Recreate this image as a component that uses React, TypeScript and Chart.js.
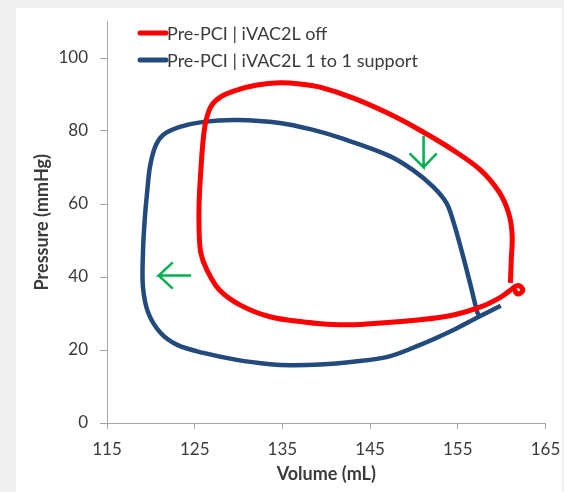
import { useEffect, useRef } from 'react';
import { Chart, registerables } from 'chart.js';

Chart.register(...registerables);

// Series labels
const seriesLabels = ['Pre-PCI | iVAC2L off', 'Pre-PCI | iVAC2L 1 to 1 support'];

// Pre-PCI | iVAC2L off (red loop) — volume (mL), pressure (mmHg)
const redVolume = [
  161.0, 161.1, 161.2, 160.8, 159.7, 157.6, 154.5, 150.7, 147.0, 143.1, 139.3, 137.0, 134.7, 132.1,
  129.8, 128.0, 126.9, 126.3, 126.0, 125.7, 125.5, 125.5, 125.7, 126.4, 127.8, 130.2, 133.6, 137.4,
  141.6, 145.0, 150.7, 154.5, 157.6, 159.9, 161.2, 161.7, 162.1, 162.4, 162.1, 161.7, 161.5,
];
const redPressure = [
  38.4, 45.0, 51.5, 57.5, 63.3, 69.3, 74.7, 80.2, 84.9, 89.0, 92.0, 92.9, 93.2, 92.6,
  91.2, 89.4, 86.9, 83.0, 78.4, 69.3, 60.3, 52.9, 46.6, 41.9, 36.5, 32.3, 29.1, 27.7,
  26.9, 27.2, 28.3, 29.6, 31.8, 34.5, 36.8, 37.6, 37.5, 36.5, 35.5, 35.5, 36.5,
];

// Pre-PCI | iVAC2L 1 to 1 support (blue loop)
const blueVolume = [
  159.9, 157.4, 154.5, 150.7, 147.0, 143.1, 139.3, 135.9, 133.6, 129.8, 126.0, 123.0, 121.1, 119.7,
  119.1, 119.1, 119.3, 119.6, 119.9, 120.5, 121.4, 123.3, 126.0, 129.8, 134.7, 138.5, 141.6, 147.0,
  149.9, 152.2, 153.7, 154.5, 155.5, 156.5, 157.2, 157.4,
];
const bluePressure = [
  32.1, 29.1, 25.5, 21.4, 18.1, 16.8, 16.0, 15.8, 16.1, 17.3, 19.2, 21.4, 24.7, 30.2,
  37.3, 46.6, 55.7, 63.8, 70.2, 75.7, 78.9, 81.1, 82.5, 83.0, 82.2, 80.3, 78.1, 73.4,
  69.3, 64.7, 60.3, 55.1, 46.6, 37.3, 30.5, 29.4,
];

// Green direction arrows (null = pen up)
const arrowDownVolume = [151.1, 151.1, 149.5, null, 151.1, 152.6];
const arrowDownPressure = [78.7, 70.1, 73.9, null, 70.1, 73.9];
const arrowLeftVolume = [124.6, 120.9, 122.5, null, 120.9, 122.5];
const arrowLeftPressure = [40.4, 40.4, 44.0, null, 40.4, 36.8];

// Axis ticks
const xTicks = [115, 125, 135, 145, 155, 165];
const yTicks = [0, 20, 40, 60, 80, 100];

const RED = '#ff0000';
const BLUE = '#224a7d';
const GREEN = '#00b050';
const AXIS = '#a6a6a6';
const TEXT = '#3a3a3a';
const FONT = 'Lato';

const toPoints = (xs: (number | null)[], ys: (number | null)[]) =>
  xs.map((x, i) => ({ x: x as number, y: ys[i] as number }));

const lineLegend = {
  id: 'lineLegend',
  afterDraw(chart: any) {
    const ctx = chart.ctx;
    const { left, top } = chart.chartArea;
    chart.data.datasets.forEach((ds: any, i: number) => {
      if (!ds.label) return;
      const y = top + 11.5 + i * 27;
      const x0 = left + 31;
      ctx.save();
      ctx.strokeStyle = ds.borderColor;
      ctx.lineWidth = 5;
      ctx.lineCap = 'round';
      ctx.beginPath();
      ctx.moveTo(x0 + 2, y);
      ctx.lineTo(x0 + 28, y);
      ctx.stroke();
      ctx.fillStyle = TEXT;
      ctx.font = `18px ${FONT}`;
      ctx.textBaseline = 'middle';
      ctx.textAlign = 'left';
      ctx.fillText(ds.label, x0 + 29, y + 1);
      ctx.restore();
    });
  },
};

export default function App() {
  const ref = useRef<HTMLCanvasElement>(null);

  useEffect(() => {
    if (!ref.current) return;
    const chart = new Chart(ref.current, {
      type: 'scatter',
      data: {
        datasets: [
          {
            label: seriesLabels[0],
            data: toPoints(redVolume, redPressure),
            showLine: true,
            borderColor: RED,
            backgroundColor: RED,
            borderWidth: 5,
            pointRadius: 0,
            tension: 0.35,
          },
          {
            label: seriesLabels[1],
            data: toPoints(blueVolume, bluePressure),
            showLine: true,
            borderColor: BLUE,
            backgroundColor: BLUE,
            borderWidth: 4.5,
            pointRadius: 0,
            tension: 0.35,
          },
          {
            label: '',
            data: toPoints(arrowDownVolume, arrowDownPressure),
            showLine: true,
            spanGaps: false,
            borderColor: GREEN,
            borderWidth: 2.5,
            pointRadius: 0,
            tension: 0,
          },
          {
            label: '',
            data: toPoints(arrowLeftVolume, arrowLeftPressure),
            showLine: true,
            spanGaps: false,
            borderColor: GREEN,
            borderWidth: 2.5,
            pointRadius: 0,
            tension: 0,
          },
        ],
      },
      options: {
        responsive: false,
        animation: false,
        layout: { padding: { top: 13.5, right: 16.5, left: 0, bottom: 0 } },
        plugins: {
          legend: { display: false },
          tooltip: { enabled: false },
        },
        scales: {
          x: {
            type: 'linear',
            min: xTicks[0],
            max: xTicks[xTicks.length - 1],
            afterBuildTicks: (s: any) => {
              s.ticks = xTicks.map((v) => ({ value: v }));
            },
            afterFit: (s: any) => {
              s.height = 69;
              s.paddingLeft = 0;
              s.paddingRight = 0;
            },
            grid: { drawOnChartArea: false, drawTicks: true, tickLength: 6, color: AXIS },
            border: { color: AXIS, width: 1 },
            ticks: { color: TEXT, font: { family: FONT, size: 17 }, padding: 10, maxRotation: 0 },
            title: {
              display: true,
              text: 'Volume (mL)',
              color: TEXT,
              font: { family: FONT, size: 18, weight: 'bold' },
              padding: { top: 0, bottom: 7 },
            },
          },
          y: {
            type: 'linear',
            min: 0,
            max: 110,
            afterBuildTicks: (s: any) => {
              s.ticks = yTicks.map((v) => ({ value: v }));
            },
            afterFit: (s: any) => {
              s.width = 91;
              s.paddingTop = 0;
              s.paddingBottom = 0;
            },
            grid: { drawOnChartArea: false, drawTicks: true, tickLength: 7, color: AXIS },
            border: { color: AXIS, width: 1 },
            ticks: { color: TEXT, font: { family: FONT, size: 17 }, padding: 12 },
            title: {
              display: true,
              text: 'Pressure (mmHg)',
              color: TEXT,
              font: { family: FONT, size: 18, weight: 'bold' },
              padding: { top: 15, bottom: 0 },
            },
          },
        },
      },
      plugins: [lineLegend],
    } as any);
    return () => chart.destroy();
  }, []);

  return (
    <div style={{ position: 'fixed', inset: 0, background: '#f0f0f0' }}>
      <div
        style={{
          position: 'absolute',
          left: 16,
          top: 8,
          width: 546,
          height: 484,
          background: '#ffffff',
        }}
      >
        <canvas ref={ref} width={546} height={484} style={{ display: 'block', width: 546, height: 484 }} />
      </div>
    </div>
  );
}
